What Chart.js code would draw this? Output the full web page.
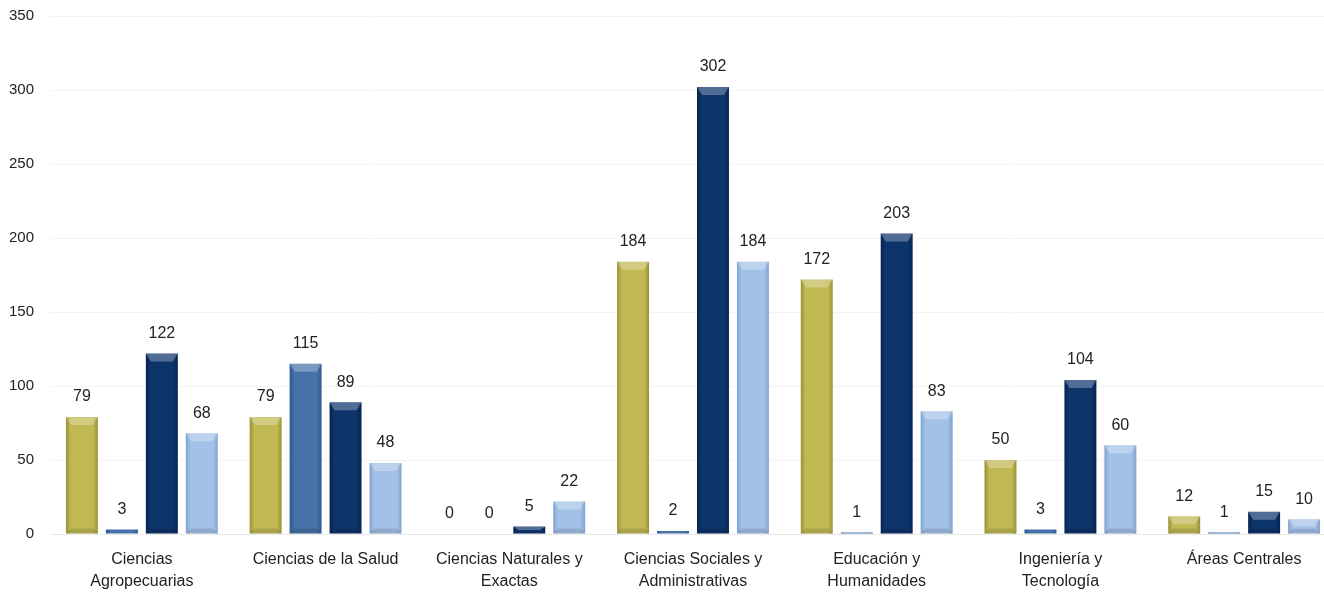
<!DOCTYPE html>
<html>
<head>
<meta charset="utf-8">
<script src="https://cdn.jsdelivr.net/npm/chart.js@4/dist/chart.umd.min.js"></script>
<style>
  html, body { margin: 0; padding: 0; background: #fff; overflow: hidden; }
  #wrap { width: 1336px; height: 594px; }
</style>
</head>
<body>
<div id="wrap"><canvas id="chart" width="1336" height="594"></canvas></div>
<script>
const categories = [
  ["Ciencias", "Agropecuarias"],
  "Ciencias de la Salud",
  ["Ciencias Naturales y", "Exactas"],
  ["Ciencias Sociales y", "Administrativas"],
  ["Educación y", "Humanidades"],
  ["Ingeniería y", "Tecnología"],
  "Áreas Centrales"
];
const serie1 = [79, 79, 0, 184, 172, 50, 12];
const serie2 = [3, 115, 0, 2, 1, 3, 1];
const serie3 = [122, 89, 5, 302, 203, 104, 15];
const serie4 = [68, 48, 22, 184, 83, 60, 10];
const yTicks = [0, 50, 100, 150, 200, 250, 300, 350];

// [edge, center] colours for each series
const palette = [
  ["#9a9236", "#c0b952"],
  ["#2e5990", "#4572a8"],
  ["#06244f", "#0e346c"],
  ["#7fa3d0", "#a3c1e6"]
];

function barFill(idx) {
  return (ctx) => {
    const el = ctx.element;
    const chart = ctx.chart;
    if (!el || el.width === undefined || !isFinite(el.x)) return palette[idx][1];
    const x0 = el.x - el.width / 2, x1 = el.x + el.width / 2;
    const g = chart.ctx.createLinearGradient(x0, 0, x1, 0);
    g.addColorStop(0, palette[idx][0]);
    g.addColorStop(0.15, palette[idx][1]);
    g.addColorStop(0.85, palette[idx][1]);
    g.addColorStop(1, palette[idx][0]);
    return g;
  };
}

const valueLabels = {
  id: "valueLabels",
  afterDatasetsDraw(chart) {
    const ctx = chart.ctx;
    ctx.save();
    chart.data.datasets.forEach((ds, i) => {
      const meta = chart.getDatasetMeta(i);
      meta.data.forEach((bar, j) => {
        const v = ds.data[j];
        const h = bar.base - bar.y;
        if (h > 4) {
          const l = bar.x - bar.width / 2, r = bar.x + bar.width / 2;
          const b = Math.min(8, h / 2);
          // top bevel highlight
          ctx.fillStyle = "rgba(255,255,255,0.28)";
          ctx.beginPath();
          ctx.moveTo(l, bar.y);
          ctx.lineTo(r, bar.y);
          ctx.lineTo(r - 5, bar.y + b);
          ctx.lineTo(l + 5, bar.y + b);
          ctx.closePath();
          ctx.fill();
          // bottom bevel shade
          ctx.fillStyle = "rgba(0,0,0,0.12)";
          ctx.beginPath();
          ctx.moveTo(l, bar.base);
          ctx.lineTo(r, bar.base);
          ctx.lineTo(r - 5, bar.base - Math.min(5, h / 3));
          ctx.lineTo(l + 5, bar.base - Math.min(5, h / 3));
          ctx.closePath();
          ctx.fill();
        }
        ctx.font = "16px 'Liberation Sans', Arial, sans-serif";
        ctx.fillStyle = "#222";
        ctx.textAlign = "center";
        ctx.textBaseline = "middle";
        ctx.fillText(String(v), bar.x, bar.y - 20);
      });
    });
    ctx.restore();
  }
};

const chart = new Chart(document.getElementById("chart"), {
  type: "bar",
  data: {
    labels: categories,
    datasets: [serie1, serie2, serie3, serie4].map((d, i) => ({
      label: "Serie " + (i + 1),
      data: d,
      backgroundColor: barFill(i),
      borderWidth: 0,
      barPercentage: 0.8,
      categoryPercentage: 0.87
    }))
  },
  options: {
    responsive: false,
    animation: false,
    layout: { padding: { left: 0, right: 0, top: 16, bottom: 0 } },
    plugins: {
      legend: { display: false },
      tooltip: { enabled: false }
    },
    scales: {
      x: {
        grid: { display: false },
        border: { display: true, color: "#e8e8e8" },
        afterFit(axis) { axis.height = 60; },
        ticks: {
          color: "#222",
          font: { family: "'Liberation Sans', Arial, sans-serif", size: 16, lineHeight: 1.4 },
          maxRotation: 0,
          autoSkip: false,
          padding: 6
        }
      },
      y: {
        min: 0,
        max: 350,
        afterBuildTicks(axis) { axis.ticks = yTicks.map(v => ({ value: v })); },
        grid: { color: "#f4f4f4", drawTicks: false },
        border: { display: false },
        afterFit(axis) { axis.width = 50; axis.paddingTop = 0; axis.paddingBottom = 0; },
        ticks: {
          color: "#222",
          font: { family: "'Liberation Sans', Arial, sans-serif", size: 15 },
          padding: 16
        }
      }
    }
  },
  plugins: [valueLabels]
});
chart.update();
</script>
</body>
</html>
